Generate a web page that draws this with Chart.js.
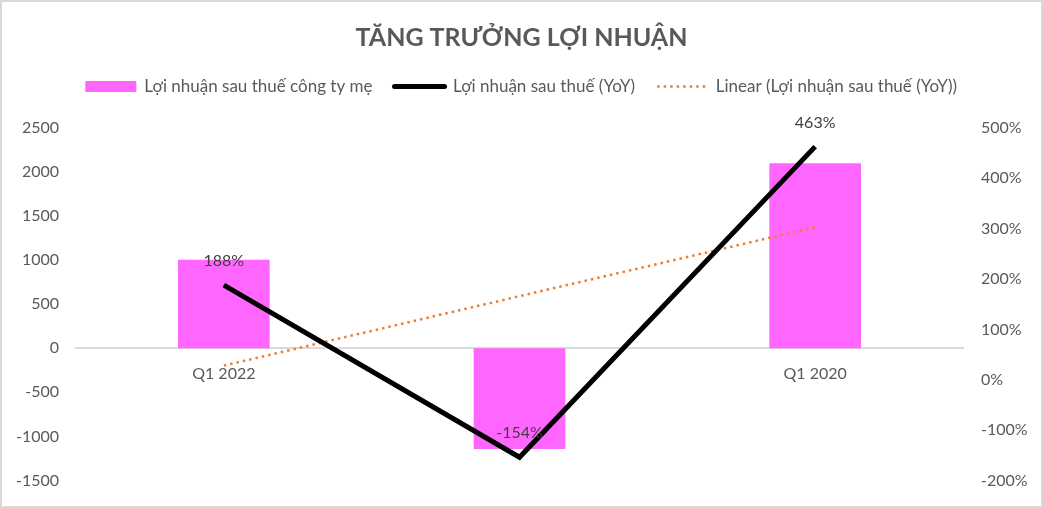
<!DOCTYPE html>
<html>
<head>
<meta charset="utf-8">
<script src="https://cdn.jsdelivr.net/npm/chart.js@4.4.1/dist/chart.umd.min.js"></script>
<style>
  html, body { margin: 0; padding: 0; background: #fff; }
  #wrap { width: 1043px; height: 508px; position: relative; }
</style>
</head>
<body>
<div id="wrap"><canvas id="chart"></canvas></div>
<script>
const categories = ['Q1 2022', 'Q1 2021', 'Q1 2020'];
const profitValues = [1005, -1145, 2100];
const yoyValues = [188, -154, 463];
const trendValues = [28, 166, 303];
const leftTicks = [-1500, -1000, -500, 0, 500, 1000, 1500, 2000, 2500];
const rightTicks = [-200, -100, 0, 100, 200, 300, 400, 500];

const textColor = '#595959';
const font = 'Lato';

const frame = {
  id: 'frame',
  beforeDraw(chart) {
    const { ctx, width, height } = chart;
    ctx.save();
    ctx.fillStyle = '#fff';
    ctx.fillRect(0, 0, width, height);
    ctx.strokeStyle = '#d9d9d9';
    ctx.lineWidth = 2;
    ctx.strokeRect(1, 1, width - 2, height - 2);
    ctx.restore();
  }
};

const yoyLabels = {
  id: 'yoyLabels',
  afterDatasetsDraw(chart) {
    const { ctx } = chart;
    const meta = chart.getDatasetMeta(1);
    ctx.save();
    ctx.font = '16px ' + font;
    ctx.fillStyle = '#404040';
    ctx.textAlign = 'center';
    ctx.textBaseline = 'middle';
    meta.data.forEach((pt, i) => {
      ctx.fillText(yoyValues[i] + '%', pt.x, pt.y - 24);
    });
    ctx.restore();
  }
};

new Chart(document.getElementById('chart'), {
  data: {
    labels: categories,
    datasets: [
      {
        type: 'bar',
        label: 'Lợi nhuận sau thuế công ty mẹ',
        data: profitValues,
        backgroundColor: '#ff66ff',
        yAxisID: 'y',
        categoryPercentage: 1,
        barPercentage: 0.31,
        order: 3
      },
      {
        type: 'line',
        label: 'Lợi nhuận sau thuế (YoY)',
        data: yoyValues,
        borderColor: '#000',
        backgroundColor: '#000',
        borderWidth: 5,
        pointRadius: 0,
        tension: 0,
        yAxisID: 'y1',
        order: 1
      },
      {
        type: 'line',
        label: 'Linear (Lợi nhuận sau thuế (YoY))',
        data: trendValues,
        borderColor: '#ed7d31',
        backgroundColor: '#ed7d31',
        borderWidth: 2.5,
        borderDash: [2.5, 4],
        pointRadius: 0,
        tension: 0,
        yAxisID: 'y1',
        order: 2
      }
    ]
  },
  options: {
    responsive: true,
    maintainAspectRatio: false,
    animation: false,
    events: [],
    layout: { padding: { left: 0, right: 0, top: 0, bottom: 18 } },
    plugins: {
      title: {
        display: true,
        text: 'TĂNG TRƯỞNG LỢI NHUẬN',
        color: textColor,
        font: { family: font, size: 25, weight: 'bold' },
        padding: { top: 23, bottom: 3 }
      },
      // empty spacer under the legend
      subtitle: {
        display: true,
        text: '',
        weight: 500,
        font: { size: 10 },
        padding: { top: 0, bottom: 11 }
      },
      legend: {
        display: true,
        labels: {
          color: textColor,
          font: { family: font, size: 17 },
          usePointStyle: true,
          pointStyleWidth: 50,
          boxHeight: 10,
          padding: 22,
          generateLabels(chart) {
            return chart.data.datasets.map((ds, i) => ({
              text: ds.label,
              datasetIndex: i,
              pointStyle: i === 0 ? 'rect' : 'line',
              fillStyle: ds.backgroundColor,
              strokeStyle: i === 0 ? ds.backgroundColor : ds.borderColor,
              lineWidth: i === 0 ? 1 : ds.borderWidth,
              lineDash: ds.borderDash || [],
              lineCap: i === 1 ? 'round' : 'butt',
              fontColor: textColor,
              hidden: false
            }));
          }
        }
      },
      tooltip: { enabled: false }
    },
    scales: {
      x: {
        position: { y: 0 },
        grid: { display: false, drawTicks: false },
        border: { display: true, color: '#d9d9d9', width: 2 },
        ticks: { color: textColor, font: { family: font, size: 16 }, padding: 16 }
      },
      y: {
        position: 'left',
        min: -1500,
        max: 2500,
        grid: { display: false, drawTicks: false },
        border: { display: false },
        afterBuildTicks(s) { s.ticks = leftTicks.map(v => ({ value: v })); },
        afterFit(s) { s.width = 76; },
        ticks: { color: textColor, font: { family: font, size: 16 }, padding: 17, callback: v => String(v) }
      },
      y1: {
        position: 'right',
        min: -200,
        max: 500,
        grid: { display: false, drawTicks: false },
        border: { display: false },
        afterBuildTicks(s) { s.ticks = rightTicks.map(v => ({ value: v })); },
        afterFit(s) { s.width = 80; },
        ticks: {
          color: textColor,
          font: { family: font, size: 16 },
          padding: 18,
          callback: v => v + '%'
        }
      }
    }
  },
  plugins: [frame, yoyLabels]
});
</script>
</body>
</html>
